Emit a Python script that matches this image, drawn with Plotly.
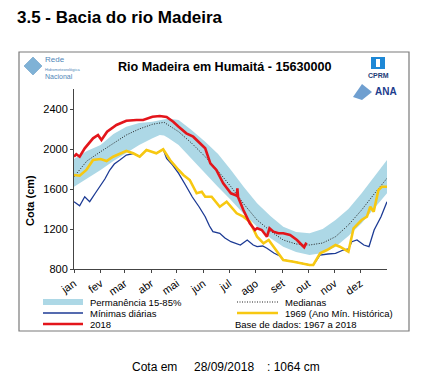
import plotly.graph_objects as go

# ---------------- data (day of year, cota in cm) ----------------
band_days = [0, 15, 31, 46, 61, 76, 91.5, 100, 105, 110, 122, 137, 153, 168, 183, 198, 213.5, 229, 244, 259, 274.7, 290, 305, 320, 335.4, 350, 365]
band_upper = [1900, 1980, 2040, 2150, 2223, 2260, 2273, 2290, 2300, 2305, 2290, 2190, 2073, 1950, 1790, 1620, 1457, 1330, 1223, 1170, 1157, 1200, 1290, 1400, 1557, 1720, 1890]
band_lower = [1623, 1700, 1790, 1880, 1957, 2040, 2107, 2140, 2135, 2110, 2040, 1900, 1757, 1620, 1490, 1350, 1223, 1110, 1023, 970, 940, 960, 1023, 1130, 1257, 1400, 1557]

med_days = [0, 15, 31, 46, 61, 76, 91.5, 105, 122, 137, 153, 168, 183, 198, 213.5, 229, 244, 259, 274.7, 290, 305, 320, 335.4, 350, 365]
med_vals = [1723, 1880, 1973, 2060, 2140, 2200, 2247, 2267, 2173, 2060, 1923, 1780, 1623, 1450, 1290, 1180, 1090, 1050, 1040, 1060, 1123, 1240, 1390, 1550, 1707]

min_days = [0, 6.6, 12.5, 18.3, 25, 31, 36, 41.7, 47, 53.4, 61, 69, 76.6, 84.5, 91.5, 96, 104, 108, 115, 122, 130, 138, 146, 153, 158, 162, 170, 176, 183, 188, 194, 202, 209, 213.5, 220, 225, 233, 240, 244, 256, 268, 274.7, 279, 287, 296, 305, 314, 320, 324, 330, 338, 344, 350, 358, 365]
min_vals = [1473, 1433, 1523, 1473, 1560, 1640, 1700, 1790, 1850, 1890, 1940, 1955, 1923, 1990, 1973, 1957, 1997, 1905, 1840, 1757, 1640, 1520, 1420, 1323, 1230, 1173, 1157, 1110, 1073, 1060, 1040, 1090, 1040, 1023, 1030, 1007, 960, 930, 890, 873, 850, 840, 840, 940, 950, 957, 990, 1000, 1073, 1090, 1040, 1023, 1190, 1323, 1473]

y1969_days = [0, 6.6, 14.4, 22.2, 31, 38, 45.6, 53, 61, 69, 76.6, 84.5, 91.5, 96, 104, 112, 122, 127.5, 135, 143, 149, 153, 160.5, 170, 178, 183, 189.7, 197.5, 205, 213.5, 221, 227, 235, 244, 256, 268, 274.7, 279, 287, 295, 305, 310, 320, 326, 335.4, 341.6, 345.5, 349.5, 355, 359, 365]
y1969_vals = [1740, 1733, 1790, 1890, 1900, 1880, 1923, 1950, 1980, 1957, 1923, 1990, 1973, 1957, 1997, 1890, 1790, 1740, 1690, 1557, 1573, 1523, 1523, 1423, 1473, 1423, 1357, 1323, 1273, 1123, 1057, 1090, 990, 890, 873, 850, 840, 840, 957, 990, 1040, 1023, 973, 1207, 1290, 1323, 1423, 1373, 1590, 1623, 1623]

y2018_days = [0, 2.7, 6.6, 12.5, 22.2, 28, 32, 38.6, 49.5, 61, 73, 80.6, 91.5, 100, 108, 115.7, 122, 131, 139, 147, 153, 159, 166, 174, 183, 188, 190, 190.5, 191.3, 197.5, 205, 211, 213.5, 219, 225, 228, 232.6, 238.4, 244, 252, 260, 265.7, 268.4, 271]
y2018_vals = [1923, 1947, 1923, 2007, 2107, 2140, 2090, 2173, 2240, 2283, 2290, 2290, 2323, 2330, 2320, 2273, 2223, 2157, 2123, 2057, 2007, 1857, 1790, 1657, 1557, 1540, 1530, 1607, 1520, 1390, 1257, 1190, 1207, 1190, 1123, 1207, 1173, 1157, 1157, 1140, 1090, 1040, 1017, 1064]

month_starts = [0, 31, 59, 90, 120, 151, 181, 212, 243, 273, 304, 334]
month_labels = ["jan", "fev", "mar", "abr", "mai", "jun", "jul", "ago", "set", "out", "nov", "dez"]
y_ticks = [800, 1200, 1600, 2000, 2400]

# ---------------- layout helpers ----------------
W, H = 428, 380
L, R, T, B = 74, 387, 89, 269   # plot area in pixels


def px(x):
    return (x - L) / (R - L)


def py(y):
    return (B - y) / (B - T)


FONT = "Liberation Sans, Arial, sans-serif"
BAND = "#add8e6"
NAVY = "#1c3a94"
GOLD = "#f7c811"
RED = "#e3151b"

fig = go.Figure()
fig.add_trace(go.Scatter(x=band_days, y=band_lower, mode="lines", line=dict(width=0, color=BAND),
                         showlegend=False, hoverinfo="skip"))
fig.add_trace(go.Scatter(x=band_days, y=band_upper, mode="lines", line=dict(width=0, color=BAND),
                         fill="tonexty", fillcolor=BAND, showlegend=False, name="Permanência 15-85%"))
fig.add_trace(go.Scatter(x=med_days, y=med_vals, mode="lines", line=dict(color="#222", width=1, dash="1px,1.5px"),
                         showlegend=False, name="Medianas"))
fig.add_trace(go.Scatter(x=min_days, y=min_vals, mode="lines", line=dict(color=NAVY, width=1.3),
                         showlegend=False, name="Mínimas diárias"))
fig.add_trace(go.Scatter(x=y1969_days, y=y1969_vals, mode="lines", line=dict(color=GOLD, width=2.6),
                         showlegend=False, name="1969 (Ano Mín. Histórica)"))
fig.add_trace(go.Scatter(x=y2018_days, y=y2018_vals, mode="lines", line=dict(color=RED, width=2.6),
                         showlegend=False, name="2018"))

shapes = []
annotations = []

# outer box
shapes.append(dict(type="rect", xref="paper", yref="paper", x0=px(19), x1=px(409), y0=py(331), y1=py(52),
                   line=dict(color="#7a7a7a", width=1.2), fillcolor="rgba(0,0,0,0)", layer="below"))

# header
annotations.append(dict(text="<b>3.5 - Bacia do rio Madeira</b>", xref="paper", yref="paper", x=px(15), y=py(17),
                        xanchor="left", yanchor="middle", showarrow=False,
                        font=dict(family=FONT, size=17, color="#000")))
# chart title
annotations.append(dict(text="<b>Rio Madeira em Humaitá - 15630000</b>", xref="paper", yref="paper",
                        x=px(225), y=py(67), xanchor="center", yanchor="middle", showarrow=False,
                        font=dict(family=FONT, size=12.6, color="#000")))
# y axis title
annotations.append(dict(text="<b>Cota (cm)</b>", xref="paper", yref="paper", x=px(30), y=py(201),
                        xanchor="center", yanchor="middle", textangle=-90, showarrow=False,
                        font=dict(family=FONT, size=11, color="#000")))

# logos (approximations)
shapes.append(dict(type="path", xref="paper", yref="paper",
                   path="M {} {} L {} {} L {} {} L {} {} Z".format(px(33), py(57), px(42), py(66), px(33), py(75), px(24), py(66)),
                   fillcolor="#7fb2d6", line=dict(color="#5d93c0", width=0.5)))
annotations.append(dict(text="Rede", xref="paper", yref="paper", x=px(43), y=py(60), xanchor="left", yanchor="middle",
                        showarrow=False, font=dict(family=FONT, size=8, color="#4f86b8")))
annotations.append(dict(text="Hidrometeorológica", xref="paper", yref="paper", x=px(43), y=py(69), xanchor="left",
                        yanchor="middle", showarrow=False, font=dict(family=FONT, size=4, color="#4f86b8")))
annotations.append(dict(text="Nacional", xref="paper", yref="paper", x=px(43), y=py(76), xanchor="left",
                        yanchor="middle", showarrow=False, font=dict(family=FONT, size=7, color="#4f86b8")))
# CPRM
shapes.append(dict(type="rect", xref="paper", yref="paper", x0=px(371), x1=px(385), y0=py(69), y1=py(57),
                   fillcolor="#1e88d6", line=dict(width=0)))
shapes.append(dict(type="rect", xref="paper", yref="paper", x0=px(376), x1=px(380), y0=py(67), y1=py(59),
                   fillcolor="#ffffff", line=dict(width=0)))
annotations.append(dict(text="<b>CPRM</b>", xref="paper", yref="paper", x=px(378), y=py(75), xanchor="center",
                        yanchor="middle", showarrow=False, font=dict(family=FONT, size=7, color="#1d3c78")))
# ANA
shapes.append(dict(type="path", xref="paper", yref="paper",
                   path="M {} {} L {} {} L {} {} L {} {} Z".format(px(353), py(97), px(362), py(84), px(372), py(92), px(362), py(100)),
                   fillcolor="#6f9fd0", line=dict(width=0)))
annotations.append(dict(text="<b>ANA</b>", xref="paper", yref="paper", x=px(373), y=py(91), xanchor="left",
                        yanchor="middle", showarrow=False, font=dict(family=FONT, size=10, color="#1d3c8c")))

# custom legend
leg = [
    (302, 43, 83, BAND, 6, "solid", "Permanência 15-85%"),
    (313, 43, 83, NAVY, 1.3, "solid", "Mínimas diárias"),
    (324, 43, 83, RED, 2.6, "solid", "2018"),
    (302, 237, 278, "#222", 1, "1px,1.5px", "Medianas"),
    (313, 237, 278, GOLD, 2.6, "solid", "1969 (Ano Mín. Histórica)"),
]
for yy, x0, x1, col, w, dash, label in leg:
    shapes.append(dict(type="line", xref="paper", yref="paper", x0=px(x0), x1=px(x1), y0=py(yy), y1=py(yy),
                       line=dict(color=col, width=w, dash=dash)))
    annotations.append(dict(text=label, xref="paper", yref="paper", x=px(x1 + 5), y=py(yy), xanchor="left",
                            yanchor="middle", showarrow=False, font=dict(family=FONT, size=9.5, color="#000")))
annotations.append(dict(text="Base de dados: 1967 a 2018", xref="paper", yref="paper", x=px(233), y=py(324),
                        xanchor="left", yanchor="middle", showarrow=False,
                        font=dict(family=FONT, size=9.5, color="#000")))

# footer
for txt, xx in [("Cota em", 130), ("28/09/2018", 192), (": 1064 cm", 265)]:
    annotations.append(dict(text=txt, xref="paper", yref="paper", x=px(xx), y=py(367), xanchor="left",
                            yanchor="middle", showarrow=False, font=dict(family=FONT, size=12, color="#000")))

fig.update_layout(
    width=W, height=H,
    margin=dict(l=L, r=W - R, t=T, b=H - B, pad=0),
    paper_bgcolor="white", plot_bgcolor="white",
    showlegend=False,
    shapes=shapes, annotations=annotations,
    font=dict(family=FONT, size=11, color="#000"),
)
fig.update_xaxes(range=[0, 365], tickvals=month_starts, ticktext=month_labels, tickangle=-35,
                 showgrid=False, zeroline=False, showline=True, linecolor="#444", linewidth=1,
                 ticks="outside", ticklen=3, tickcolor="#444", tickfont=dict(family=FONT, size=11))
fig.update_yaxes(range=[800, 2600], tickvals=y_ticks, showgrid=False, zeroline=False, showline=True,
                 linecolor="#444", linewidth=1, ticks="outside", ticklen=3, tickcolor="#444",
                 tickfont=dict(family=FONT, size=11))

fig.write_html("out.html", config={"displayModeBar": False},
               post_script="document.body.style.margin='0';document.body.style.padding='0';")
